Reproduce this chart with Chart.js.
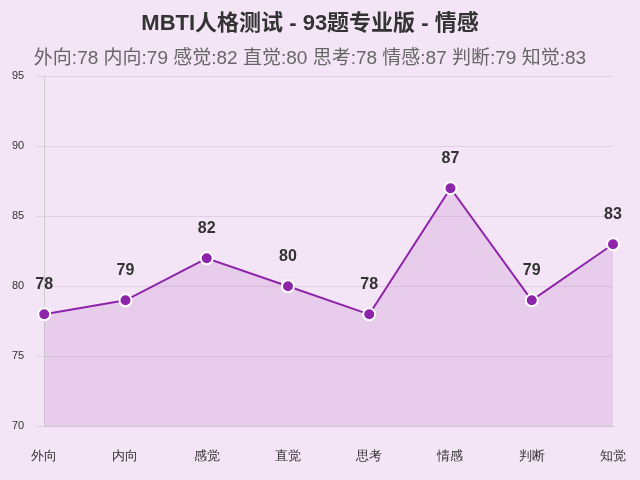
<!DOCTYPE html>
<html><head><meta charset="utf-8">
<script src="https://cdn.jsdelivr.net/npm/chart.js@4"></script>
<style>html,body{margin:0;padding:0;background:#f3e5f5;}#c{width:640px;height:480px;}</style>
</head><body><div id="c"><canvas id="cv" width="640" height="480"></canvas></div>
<script>
const categories = ['外向','内向','感觉','直觉','思考','情感','判断','知觉'];
const values = [78,79,82,80,78,87,79,83];
const yTicks = [70,75,80,85,90,95];
const subtitleText = categories.map((c,i)=>c+':'+values[i]).join(' ');
const labelPlugin = {
  id:'lbl',
  afterDatasetsDraw(chart){
    const ctx=chart.ctx; const meta=chart.getDatasetMeta(0);
    ctx.save(); ctx.font='bold 16px "Liberation Sans", sans-serif'; ctx.fillStyle='#333';
    ctx.textAlign='center'; ctx.textBaseline='bottom';
    meta.data.forEach((p,i)=>ctx.fillText(values[i], p.x, p.y-22));
    ctx.restore();
  }
};
new Chart(document.getElementById('cv'),{
  type:'line',
  data:{labels:categories,datasets:[{data:values,borderColor:'#8e24aa',backgroundColor:'rgba(186,104,200,0.2)',fill:true,borderWidth:2,tension:0,pointRadius:6,pointBackgroundColor:'#8e24aa',pointBorderColor:'#fff',pointBorderWidth:2}]},
  options:{responsive:false,animation:false,
    layout:{padding:{left:0,right:20,top:0,bottom:2}},
    plugins:{legend:{display:false},tooltip:{enabled:false},
      title:{display:true,text:'MBTI人格测试 - 93题专业版 - 情感',color:'#333',font:{size:22,weight:'bold',family:'"Liberation Sans", "Noto Sans CJK SC", sans-serif'},padding:{top:11,bottom:10}},
      subtitle:{display:true,text:subtitleText,color:'#666',font:{size:19,family:'"Liberation Sans", "Noto Sans CJK SC", sans-serif'},padding:{bottom:6}}},
    scales:{
      x:{offset:false,grid:{display:false},border:{color:'#ccc'},ticks:{color:'#333',font:{size:13},padding:14}},
      y:{min:70,max:95,afterBuildTicks:a=>{a.ticks=yTicks.map(v=>({value:v}));},grid:{color:'rgba(180,140,190,0.25)'},border:{color:'#ccc'},ticks:{color:'#333',font:{size:11},padding:12}}
    }},
  plugins:[labelPlugin]
});
</script></body></html>
